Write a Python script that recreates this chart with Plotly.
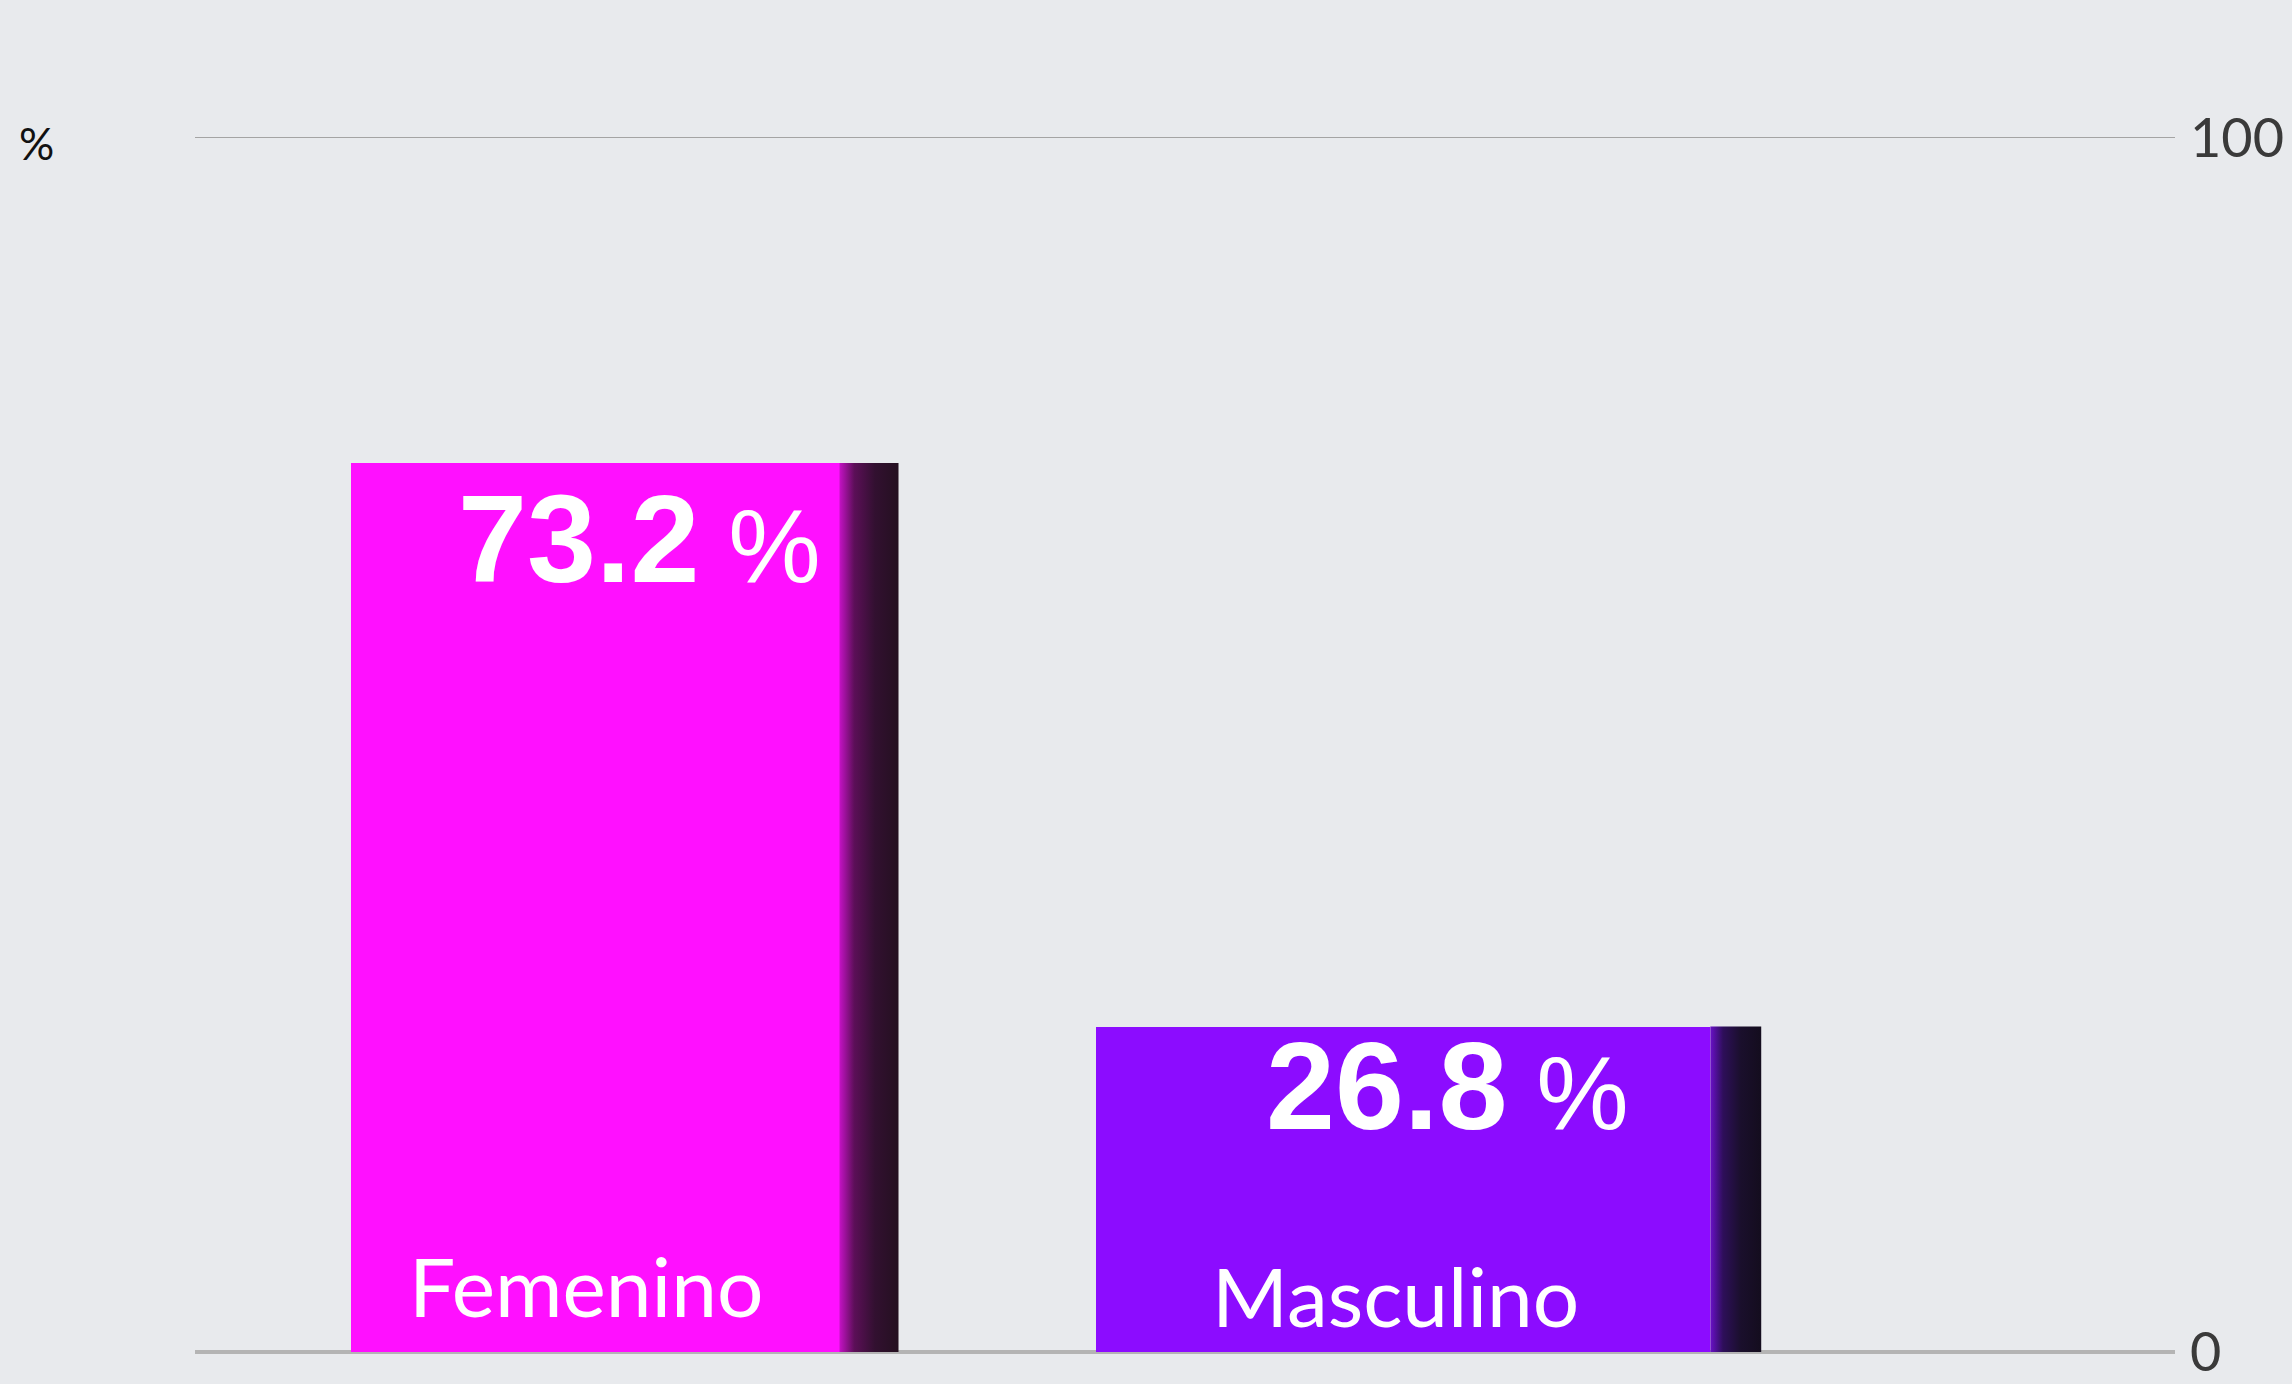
import plotly.graph_objects as go

# ---- data ----
categories = ["Femenino", "Masculino"]
values = [73.2, 26.8]
value_labels = ["73.2", "26.8"]
tick_values = [0, 100]
tick_labels = ["0", "100"]
unit_label = "%"

# ---- styles ----
front_colors = ["#ff10ff", "#8c0cff"]
side_scales = [
    [[0, "#c412c4"], [0.25, "#5c0f58"], [0.6, "#321030"], [1, "#241020"]],
    [[0, "#6a10c8"], [0.25, "#2e0f5a"], [0.6, "#1a0f2c"], [1, "#140d1e"]],
]
bar_widths = [0.605, 0.76]
side_widths = [0.073, 0.063]
value_shifts = [-5, 12]
name_shifts = [16, 6]
xpos = list(range(len(categories)))

fig = go.Figure()

fig.add_trace(go.Bar(
    x=xpos, y=values, width=bar_widths,
    marker=dict(color=front_colors, line=dict(width=0)),
    showlegend=False, hoverinfo="skip",
))

for i, v in enumerate(values):
    x0 = xpos[i] + bar_widths[i] / 2
    x1 = x0 + side_widths[i]
    fig.add_trace(go.Scatter(
        x=[x0, x1, x1, x0, x0], y=[0, 0, v, v, 0],
        mode="none", fill="toself",
        fillgradient=dict(type="horizontal", colorscale=side_scales[i]),
        showlegend=False, hoverinfo="skip",
    ))

annotations = []
for i, (c, v, lab) in enumerate(zip(categories, values, value_labels)):
    annotations.append(dict(
        x=xpos[i] + 0.055, y=v, xref="x", yref="y",
        text=f"<b>{lab}</b><span style='font-size:104px'> %</span>",
        showarrow=False, yanchor="top", xanchor="center", yshift=value_shifts[i],
        font=dict(family="Liberation Sans, Arial", size=124, color="white"),
    ))
    annotations.append(dict(
        x=xpos[i] - 0.01, y=0, xref="x", yref="y",
        text=c, showarrow=False, yanchor="bottom", xanchor="center",
        yshift=name_shifts[i],
        font=dict(family="Lato", size=82, color="white"),
    ))

annotations.append(dict(
    x=-0.08, y=0.937, xref="paper", yref="paper", text=unit_label,
    showarrow=False, xanchor="center", yanchor="middle",
    font=dict(family="Lato", size=44, color="#111111"),
))

bg = "#e8eaed"
fig.update_layout(
    width=2292, height=1384,
    margin=dict(l=195, r=117, t=60, b=9),
    paper_bgcolor=bg, plot_bgcolor=bg,
    bargap=0,
    xaxis=dict(range=[-0.495, 1.955], showgrid=False, zeroline=False,
               showticklabels=False, showline=False, fixedrange=True),
    yaxis=dict(range=[-1.9, 106.4], side="right", tickvals=tick_values,
               ticktext=tick_labels, showgrid=True, gridcolor="#a4a4a4",
               gridwidth=1, zeroline=True, zerolinecolor="#b4b4b4",
               zerolinewidth=4, ticks="", showline=False,
               ticklabelstandoff=14, ticklabeloverflow="allow",
               tickfont=dict(family="Lato", size=54, color="#3a3a3a"),
               automargin=False),
    annotations=annotations,
)

fig.write_html("out.html", config={"displayModeBar": False},
               post_script="document.body.style.margin='0';")
